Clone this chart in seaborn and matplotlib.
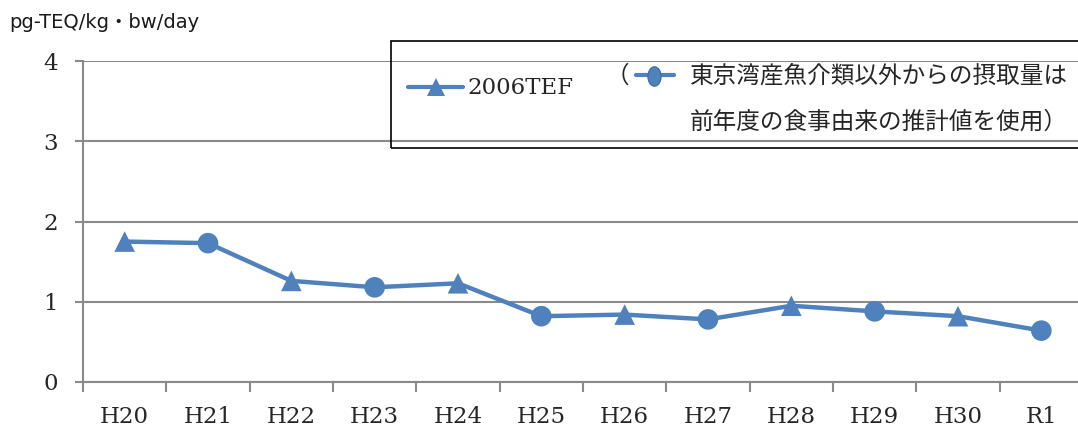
import matplotlib.pyplot as plt
import numpy as np
import pandas as pd
import seaborn as sns
from matplotlib.lines import Line2D
from matplotlib.patches import Rectangle
from matplotlib.path import Path
from matplotlib.transforms import Affine2D

# Data
years = ["H20", "H21", "H22", "H23", "H24", "H25", "H26", "H27", "H28", "H29", "H30", "R1"]
intake = [1.75, 1.73, 1.26, 1.18, 1.23, 0.82, 0.84, 0.78, 0.95, 0.88, 0.82, 0.64]
method = ["2006TEF", "推計値使用"] * 6
y_ticks = [0, 1, 2, 3, 4]

unit_label = "pg-TEQ/kg・bw/day"
legend_main = "2006TEF"
legend_note = ["東京湾産魚介類以外からの摂取量は", "前年度の食事由来の推計値を使用）"]

W, H = 1078, 428
BLUE = "#4F81BD"
GRID = "#8A8A8A"
SERIF = ["DejaVu Serif", "Noto Sans CJK JP"]
SANS = ["DejaVu Sans", "Noto Sans CJK JP"]
CJK = ["Noto Sans CJK JP", "DejaVu Sans"]


def fxy(x, y):
    """Pixel position (from top-left) -> figure fraction."""
    return x / W, 1 - y / H


sns.set_theme(style="ticks")
plt.rcParams["font.family"] = SERIF

fig = plt.figure(figsize=(W / 100, H / 100), dpi=100)
ax = fig.add_axes([83 / W, 46 / H, 1000 / W, 321 / H])

df = pd.DataFrame({
    "year": years,
    "pos": np.arange(len(years)),
    "intake": intake,
    "method": method,
})

sns.lineplot(data=df, x="pos", y="intake", color=BLUE, linewidth=3.2,
             sort=False, ax=ax, zorder=3)
sns.scatterplot(data=df, x="pos", y="intake", style="method",
                markers={"2006TEF": "^", "推計値使用": "o"},
                color=BLUE, s=220, linewidth=0, legend=False, ax=ax, zorder=4)

# Axes styling (Excel-like)
ax.set_xlim(-0.5, len(years) - 0.5)
ax.set_ylim(y_ticks[0], y_ticks[-1])
ax.set_xticks(df["pos"], years)
ax.set_xticks(np.arange(len(years) + 1) - 0.5, minor=True)
ax.set_yticks(y_ticks)
ax.tick_params(axis="x", which="major", length=0, pad=17, labelsize=16.5)
ax.tick_params(axis="x", which="minor", bottom=True, length=7, width=1.5,
               color=GRID, direction="out")
ax.tick_params(axis="y", which="both", length=6, width=1.5, color=GRID,
               pad=12, labelsize=16.5, direction="out")
ax.tick_params(axis="y", which="minor", left=False)
ax.yaxis.grid(True, color=GRID, linewidth=1.5)
ax.set_axisbelow(True)
for side in ["top", "right"]:
    ax.spines[side].set_visible(False)
for side in ["left", "bottom"]:
    ax.spines[side].set_color(GRID)
    ax.spines[side].set_linewidth(1.5)
ax.set_xlabel("")
ax.set_ylabel("")

# Unit label
fig.text(*fxy(9, 22), unit_label, family=SANS, fontsize=14,
         ha="left", va="center", color="#1a1a1a")

# Hand-built legend box (no fill, grid shows through)
fig.add_artist(Rectangle(fxy(391, 148), (1100 - 391) / W, (148 - 41) / H,
                         transform=fig.transFigure, fill=False,
                         edgecolor="black", linewidth=1.2))

# Entry 1: line + triangle
fig.add_artist(Line2D([408 / W, 463 / W], [1 - 87 / H] * 2,
                      transform=fig.transFigure, color=BLUE, linewidth=3,
                      solid_capstyle="round"))
fig.add_artist(Line2D([436 / W], [1 - 87 / H], transform=fig.transFigure,
                      marker="^", markersize=12.5, color=BLUE,
                      markeredgewidth=0, linestyle="none"))
fig.text(*fxy(467, 88), legend_main, family=SERIF, fontsize=16.5,
         ha="left", va="center")

# Entry 2: paren + line + narrow ellipse + two-line note
fig.text(*fxy(606, 76), "（", family=CJK, fontsize=17, ha="left", va="center")
fig.add_artist(Line2D([636 / W, 674 / W], [1 - 75 / H] * 2,
                      transform=fig.transFigure, color=BLUE, linewidth=3,
                      solid_capstyle="round"))
ellipse = Path.unit_circle().transformed(Affine2D().scale(0.68, 1.0))
fig.add_artist(Line2D([654 / W], [1 - 76 / H], transform=fig.transFigure,
                      marker=ellipse, markersize=14, color=BLUE,
                      markeredgecolor="#3C6A9C", markeredgewidth=0.8,
                      linestyle="none"))
fig.text(*fxy(690, 76), legend_note[0], family=CJK, fontsize=17,
         ha="left", va="center")
fig.text(*fxy(690, 122), legend_note[1], family=CJK, fontsize=17,
         ha="left", va="center")

fig.savefig("out.png", dpi=100)
